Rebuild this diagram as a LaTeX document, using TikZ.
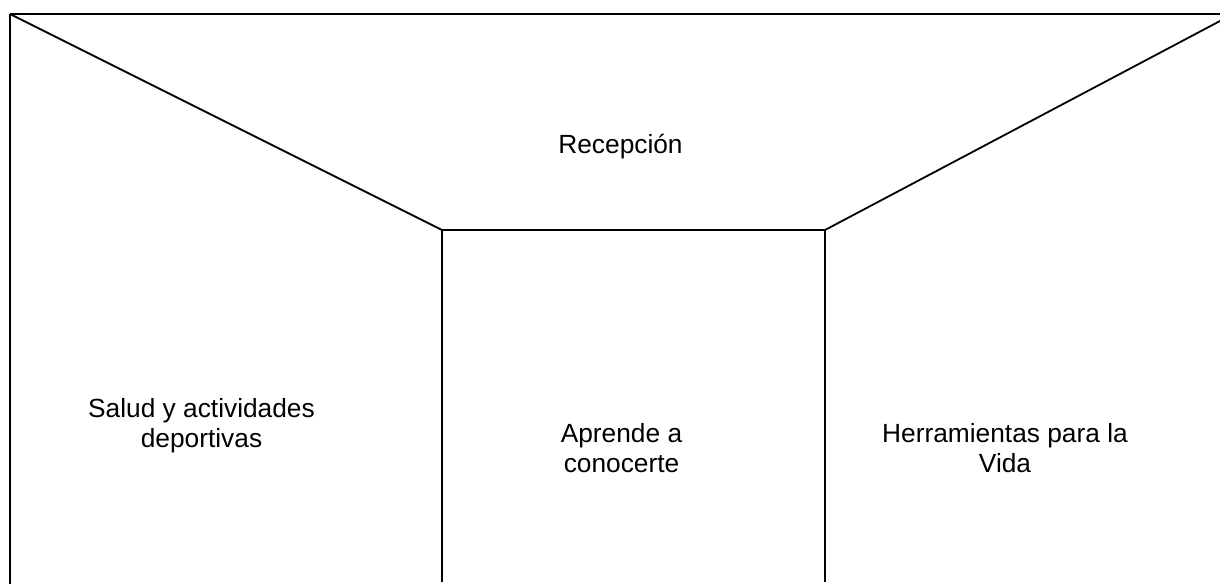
\documentclass[tikz,border=0pt]{standalone}
\usepackage{fontspec}
\setmainfont{Liberation Sans}
\begin{document}
\begin{tikzpicture}[x=1pt,y=-1pt,
  wall/.style={line width=1.8pt,black},
  roomlabel/.style={align=center,anchor=base,inner sep=0pt,font=\fontsize{26.3}{30}\selectfont}]
\useasboundingbox (0,0) rectangle (1220,584);
\coordinate (tl) at (10,14);
\coordinate (tr) at (1220,14);
\coordinate (bl) at (10,584);
\coordinate (ml) at (442,230);
\coordinate (mr) at (825,230);
\coordinate (re) at (1220,21);
\coordinate (mlb) at (442,582);
\coordinate (mrb) at (825,582);
\draw[wall] (tl) -- (tr);
\draw[wall] (tl) -- (bl);
\draw[wall] (tl) -- (ml) -- (mr) -- (re);
\draw[wall] (ml) -- (mlb);
\draw[wall] (mr) -- (mrb);
\node[roomlabel] (recepcion) at (620.5,153) {Recepción};
\node[roomlabel] (salud) at (201.5,447) {Salud y actividades\\deportivas};
\node[roomlabel] (aprende) at (621.5,472.5) {Aprende a\\conocerte};
\node[roomlabel] (herramientas) at (1005,472.5) {Herramientas para la\\Vida};
\end{tikzpicture}
\end{document}
